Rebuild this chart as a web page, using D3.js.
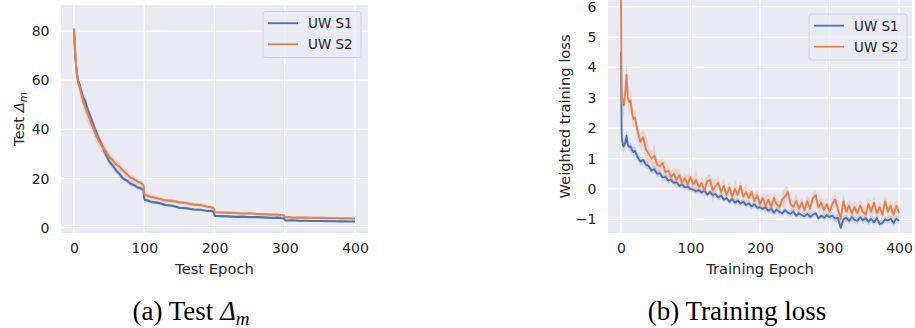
<!DOCTYPE html>
<html lang="en">
<head>
<meta charset="utf-8">
<script src="https://d3js.org/d3.v7.min.js"></script>
<style>
  body {margin:0; background:#fff;}
  svg {display:block;}
  .tick text {font-family:"DejaVu Sans", sans-serif; font-size:14px; fill:#262626;}
  .lbl {font-family:"DejaVu Sans", sans-serif; font-size:14.7px; fill:#262626;}
  .leg {font-family:"DejaVu Sans", sans-serif; font-size:13.5px; fill:#262626;}
  .cap {font-family:"Liberation Serif", serif; font-size:27px; fill:#000;}
</style>
<title>UW S1 vs UW S2</title>
</head>
<body>
<script>

// ---- data ----
let seriesNames = ["UW S1", "UW S2"];
let colors = ["#4c72b0", "#dd8452"];
let xTicks = [0, 100, 200, 300, 400];

// (a) test delta_m
let testEpochs = [0,1,2,3,4,6,8,10,13,16, 20,25,28,30,35,40,45,50,55,60,
  65,70,75,80,85,90,95,99,100,101, 105,110,120,130,140,150,160,170,180,190,
  195,199,200,201,210,220,230,240,250,260, 270,280,290,295,299,300,301,305,310,320,
  330,340,350,360,370,380,390,400];
let testS1 = [81,74,69,66,63,60,58,56,53,51.5, 47.5,44,41.5,40,36.5,33.5,30,27,25.3,23.3,
  21.8,20,19.2,18,17.4,16.5,16,15.4,11.8,11.3, 11.1,10.5,10.1,9.2,8.9,8.1,7.9,7.4,7.3,6.8,
  6.9,6.5,5,4.8,4.7,4.6,4.4,4.5,4.3,4.3, 4.2,4,4.1,3.9,3.8,3.2,2.95,2.9,3,2.8,
  2.85,2.7,2.75,2.6,2.65,2.55,2.5,2.5];
let testS2 = [81,75,70,66,62.5,59,57,54.8,51.5,49, 46,42,40,38.5,35.5,33,31.2,28.8,27.5,25.8,
  24.7,23.2,21.8,20.4,19.8,18.8,18.2,17.3,14,13.3, 13,12.5,11.9,11.1,10.9,10.3,10,9.4,9.2,8.5,
  8.3,7.9,6.6,6.3,6.2,6.1,6,5.8,5.9,5.6, 5.5,5.3,5.3,5.1,5,4.4,4.2,4.3,4.1,4.1,
  4.15,4,4.05,3.9,3.95,3.8,3.85,3.7];
let testS1Band = [0.5,1,1.5,1.5,1.5,1.5,1.5,1.5,2,2, 2,2,2,2,1.8,1.5,1.5,1.5,1.2,1.2,
  1.2,1,1,1,1,0.9,0.9,0.9,0.8,0.8, 0.7,0.7,0.7,0.6,0.6,0.6,0.6,0.6,0.5,0.5,
  0.5,0.5,0.5,0.5,0.4,0.4,0.4,0.4,0.4,0.4, 0.4,0.4,0.4,0.4,0.4,0.3,0.3,0.3,0.3,0.3,
  0.3,0.3,0.3,0.3,0.3,0.3,0.3,0.3];
let testS2Band = [0.5,1.5,2,2.5,2.5,2.5,2.5,3,3,3, 3.5,3,3,3,2.5,2.5,2.5,2,2,2,
  1.8,1.5,1.5,1.5,1.5,1.2,1.2,1.2,1,1, 1,1,1,0.9,0.9,0.8,0.8,0.8,0.7,0.7,
  0.7,0.7,0.6,0.6,0.6,0.6,0.5,0.5,0.5,0.5, 0.5,0.5,0.5,0.5,0.5,0.4,0.4,0.4,0.4,0.4,
  0.4,0.4,0.4,0.4,0.4,0.4,0.4,0.4];

// (b) weighted training loss
let trainEpochs = [0,1,2,3,4,6,8,10,12,14,16,18,20,
  24,28,32,36,40,44,48,52,56,60,64,68,72,76,80,84,88,92,96,100,
  104,108,112,116,120,124,128,132,136,140,144,148,152,156,160,164,168,172,176,180,184,188,192,196,200,
  204,208,212,216,220,224,228,232,236,240,244,248,252,256,260,264,268,272,276,280,284,288,292,296,300,
  304,308,312,316,320,324,328,332,336,340,344,348,352,356,360,364,368,372,376,380,384,388,392,396,400];
let trainS1 = [4.5,1.8,1.55,1.45,1.4,1.5,1.75,1.45,1.38,1.4,1.28,1.22,1.25,
  1.05,0.9,0.95,0.8,0.75,0.6,0.65,0.5,0.52,0.38,0.4,0.28,0.3,0.2,0.22,0.1,0.15,0.05,0.08,0,
  -0.02,-0.08,-0.03,-0.12,-0.05,-0.18,-0.1,-0.2,-0.17,-0.28,-0.22,-0.35,-0.3,-0.42,-0.33,-0.45,-0.38,-0.48,-0.42,-0.53,-0.47,-0.58,-0.5,-0.62,-0.6,
  -0.66,-0.6,-0.72,-0.65,-0.78,-0.68,-0.76,-0.8,-0.7,-0.78,-0.82,-0.74,-0.88,-0.8,-0.86,-0.9,-0.82,-0.92,-0.85,-0.8,-0.97,-0.88,-0.95,-0.86,-0.93,
  -0.88,-0.98,-0.95,-1.28,-1,-0.95,-1.05,-0.93,-1.02,-1.05,-0.93,-1.03,-0.96,-1.08,-0.98,-1.1,-0.96,-1.15,-1.12,-1,-1.04,-0.98,-1.12,-0.98,-1.05];
let trainS2 = [6.3,3.2,2.8,2.95,2.75,3.1,3.75,3,2.85,2.9,2.5,2.3,2.35,
  1.9,1.55,1.7,1.3,1.15,1,1.1,0.8,0.75,0.85,0.55,0.6,0.4,0.5,0.3,0.45,0.2,0.35,0.15,0.4,
  0.15,0.3,0.05,0.2,-0.05,0.25,0.3,-0.05,0.1,0.2,-0.1,0.1,-0.2,0.05,-0.25,0,-0.2,0.1,-0.25,-0.1,-0.3,-0.1,-0.4,-0.2,-0.5,
  -0.3,-0.55,-0.35,-0.6,-0.3,-0.5,-0.6,-0.35,-0.25,-0.1,-0.5,-0.6,-0.4,-0.65,-0.45,-0.7,-0.4,-0.65,-0.3,-0.2,-0.6,-0.45,-0.7,-0.5,-0.75,
  -0.5,-0.35,-0.65,-1,-0.4,-0.75,-0.55,-0.8,-0.6,-0.8,-0.55,-0.75,-0.85,-0.5,-0.75,-0.45,-0.8,-0.6,-0.85,-0.4,-0.75,-0.55,-0.85,-0.55,-0.8];
let trainS1Band = [0.2,0.3,0.25,0.2,0.2,0.2,0.2,0.15,0.15,0.15,0.15,0.15,0.15,
  0.15,0.15,0.12,0.12,0.12,0.12,0.12,0.12,0.12,0.12,0.12,0.12,0.1,0.1,0.1,0.1,0.1,0.1,0.1,0.1,
  0.1,0.1,0.1,0.1,0.1,0.1,0.1,0.1,0.1,0.1,0.1,0.1,0.1,0.1,0.1,0.1,0.1,0.1,0.1,0.1,0.1,0.1,0.1,0.1,0.1,
  0.1,0.1,0.1,0.1,0.1,0.1,0.1,0.1,0.1,0.1,0.1,0.1,0.1,0.1,0.1,0.1,0.1,0.1,0.1,0.1,0.1,0.1,0.1,0.1,0.1,
  0.12,0.12,0.12,0.12,0.12,0.12,0.12,0.12,0.12,0.12,0.12,0.12,0.12,0.12,0.12,0.12,0.12,0.12,0.12,0.12,0.12,0.12,0.12,0.12,0.12];
let trainS2Band = [0.3,0.5,0.5,0.45,0.4,0.4,0.45,0.4,0.35,0.35,0.35,0.3,0.3,
  0.3,0.3,0.25,0.5,0.25,0.25,0.4,0.25,0.2,0.2,0.35,0.2,0.2,0.2,0.4,0.2,0.2,0.2,0.3,0.2,
  0.2,0.35,0.2,0.2,0.3,0.2,0.2,0.4,0.2,0.2,0.2,0.3,0.2,0.2,0.2,0.35,0.2,0.2,0.2,0.3,0.2,0.2,0.2,0.2,0.2,
  0.2,0.3,0.2,0.2,0.2,0.25,0.2,0.2,0.35,0.2,0.2,0.2,0.3,0.2,0.2,0.2,0.2,0.3,0.2,0.2,0.2,0.25,0.2,0.2,0.2,
  0.2,0.2,0.3,0.2,0.25,0.2,0.2,0.3,0.2,0.25,0.2,0.2,0.3,0.2,0.2,0.25,0.2,0.2,0.3,0.2,0.25,0.2,0.3,0.2,0.2];

let svg = d3.select("body").append("svg")
  .attr("width", 915)
  .attr("height", 328);

function drawPanel(p) {
  let x = d3.scaleLinear().domain(p.xDomain).range([p.left, p.right]);
  let y = d3.scaleLinear().domain(p.yDomain).range([p.bottom, p.top]);
  let g = svg.append("g");

  g.append("rect")
    .attr("x", p.left).attr("y", p.top)
    .attr("width", p.right - p.left).attr("height", p.bottom - p.top)
    .attr("fill", "#eaeaf2");

  // white grid
  g.selectAll(".gx").data(xTicks).enter().append("line")
    .attr("x1", d => x(d)).attr("x2", d => x(d))
    .attr("y1", p.top).attr("y2", p.bottom)
    .attr("stroke", "#fff").attr("stroke-width", 1.3);
  g.selectAll(".gy").data(p.yTicks).enter().append("line")
    .attr("y1", d => y(d)).attr("y2", d => y(d))
    .attr("x1", p.left).attr("x2", p.right)
    .attr("stroke", "#fff").attr("stroke-width", 1.3);

  let xa = g.append("g").attr("transform", "translate(0," + p.bottom + ")")
    .call(d3.axisBottom(x).tickValues(xTicks).tickSize(0).tickPadding(10).tickFormat(d3.format("d")));
  let ya = g.append("g").attr("transform", "translate(" + p.left + ",0)")
    .call(d3.axisLeft(y).tickValues(p.yTicks).tickSize(0).tickPadding(11.5));
  xa.select(".domain").remove();
  ya.select(".domain").remove();
  xa.selectAll("text").attr("fill", "#262626");
  ya.selectAll("text").attr("fill", "#262626");

  // clip
  let clipId = "clip" + p.id;
  svg.append("clipPath").attr("id", clipId).append("rect")
    .attr("x", p.left).attr("y", p.top)
    .attr("width", p.right - p.left).attr("height", p.bottom - p.top);
  let plot = g.append("g").attr("clip-path", "url(#" + clipId + ")");

  p.series.forEach((s, i) => {
    let pts = p.epochs.map((e, k) => ({e: e, v: s[k], b: p.bands[i][k]}));
    plot.append("path")
      .datum(pts)
      .attr("fill", colors[i])
      .attr("fill-opacity", 0.2)
      .attr("d", d3.area().x(d => x(d.e)).y0(d => y(d.v - d.b)).y1(d => y(d.v + d.b)));
    plot.append("path")
      .datum(pts)
      .attr("fill", "none")
      .attr("stroke", colors[i])
      .attr("stroke-width", p.lineW)
      .attr("stroke-linejoin", "round")
      .attr("d", d3.line().x(d => x(d.e)).y(d => y(d.v)));
  });

  // axis labels
  g.append("text").attr("class", "lbl")
    .attr("x", (p.left + p.right) / 2).attr("y", 274)
    .attr("text-anchor", "middle")
    .text(p.xLabel);
  let yl = g.append("text").attr("class", "lbl")
    .attr("transform", "translate(" + p.yLabelX + "," + (p.top + p.bottom) / 2 + ") rotate(-90)")
    .attr("dy", "0.35em")
    .attr("text-anchor", "middle");
  p.yLabel(yl);

  // legend
  let lg = g.append("g").attr("transform", "translate(" + p.legX + "," + p.legY + ")");
  lg.append("rect")
    .attr("width", 98).attr("height", 46).attr("rx", 3)
    .attr("fill", "#eaeaf2").attr("fill-opacity", 0.8)
    .attr("stroke", "#cfcfd6").attr("stroke-width", 0.9);
  seriesNames.forEach((n, i) => {
    lg.append("line")
      .attr("x1", 5).attr("x2", 35)
      .attr("y1", 11.7 + i * 21).attr("y2", 11.7 + i * 21)
      .attr("stroke", colors[i]).attr("stroke-width", 1.8);
    lg.append("text").attr("class", "leg")
      .attr("x", 45).attr("y", 11.7 + i * 21).attr("dy", "0.36em")
      .text(n);
  });
}

drawPanel({
  id: "a", left: 61, right: 368, top: 5, bottom: 233,
  xDomain: [-18.5, 418.5], yDomain: [-2.16, 90.6], yTicks: [0, 20, 40, 60, 80],
  epochs: testEpochs, series: [testS1, testS2], bands: [testS1Band, testS2Band], lineW: 2.1,
  xLabel: "Test Epoch", yLabelX: 19,
  yLabel: t => {
    t.append("tspan").text("Test ");
    t.append("tspan").attr("font-style", "italic").text("Δ");
    t.append("tspan").attr("font-style", "italic").attr("font-size", "10.5px").attr("dy", "3").text("m");
  },
  legX: 263, legY: 11.5
});

drawPanel({
  id: "b", left: 608, right: 912, top: 0, bottom: 233,
  xDomain: [-18.6, 418.6], yDomain: [-1.45, 6.22], yTicks: [-1, 0, 1, 2, 3, 4, 5, 6],
  epochs: trainEpochs, series: [trainS1, trainS2], bands: [trainS1Band, trainS2Band], lineW: 1.9,
  xLabel: "Training Epoch", yLabelX: 565,
  yLabel: t => t.text("Weighted training loss"),
  legX: 809, legY: 14
});

// captions
let caps = [{x: 191, parts: ["(a) Test ", "Δ", "m"]}, {x: 737, parts: ["(b) Training loss"]}];
caps.forEach(c => {
  let t = svg.append("text").attr("class", "cap")
    .attr("x", c.x).attr("y", 320).attr("text-anchor", "middle");
  t.append("tspan").text(c.parts[0]);
  if (c.parts.length > 1) {
    t.append("tspan").attr("font-style", "italic").text(c.parts[1]);
    t.append("tspan").attr("font-style", "italic").attr("font-size", "19px").attr("dy", "5").text(c.parts[2]);
  }
});

</script>
</body>
</html>
